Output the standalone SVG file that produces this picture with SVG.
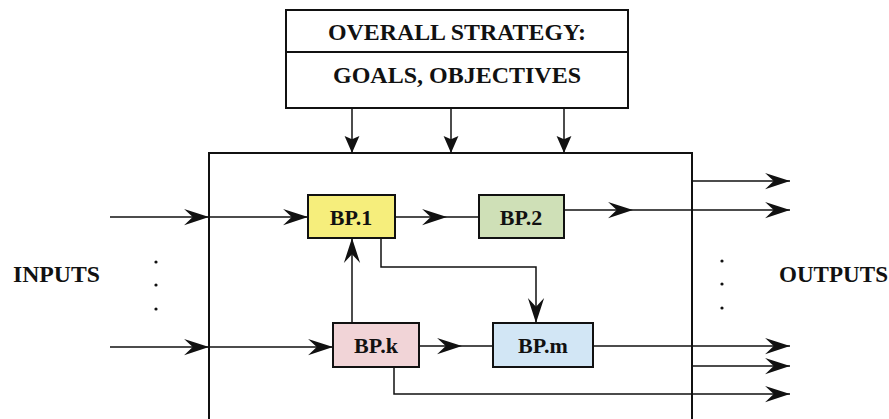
<svg xmlns="http://www.w3.org/2000/svg" width="889" height="419" viewBox="0 0 889 419">
  <style>
    .frame { fill: none; stroke: #111; stroke-width: 2; }
    .bp { stroke: #111; stroke-width: 2; }
    .wire { fill: none; stroke: #111; stroke-width: 1.5; }
    .lbl { font-family: 'Liberation Serif', 'Times New Roman', Times, serif; font-weight: 700; fill: #111; }
    .dot { fill: #111; }
  </style>
  <defs>
    <!-- barbed arrowhead, tip at the end of the path -->
    <marker id="barb" markerUnits="userSpaceOnUse" markerWidth="26" markerHeight="18" viewBox="-23 -8 24 16" refX="0" refY="0" orient="auto">
      <path d="M0,0 L-23,-7.5 L-15,0 L-23,7.5 Z" fill="#111"/>
    </marker>
    <!-- small solid arrowhead for the strategy inputs -->
    <marker id="tri" markerUnits="userSpaceOnUse" markerWidth="18" markerHeight="18" viewBox="-16 -8 17 16" refX="0" refY="0" orient="auto">
      <path d="M0,0 L-16,-7 L-13,0 L-16,7 Z" fill="#111"/>
    </marker>
    <!-- arrowhead placed in the middle of a straight run -->
    <marker id="midbarb" markerUnits="userSpaceOnUse" markerWidth="26" markerHeight="18" viewBox="-23 -8 24 16" refX="0" refY="0" orient="auto">
      <path d="M0,0 L-23,-7.5 L-15,0 L-23,7.5 Z" fill="#111"/>
    </marker>
  </defs>

  <rect width="889" height="419" fill="#fff"/>

  <!-- strategy box -->
  <g id="strategy">
    <rect class="frame" x="286" y="10" width="342" height="98"/>
    <line class="frame" x1="286" y1="52" x2="628" y2="52"/>
    <text class="lbl" x="457" y="40" font-size="23" text-anchor="middle" textLength="258" lengthAdjust="spacingAndGlyphs">OVERALL STRATEGY:</text>
    <text class="lbl" x="457" y="83" font-size="23" text-anchor="middle" textLength="248" lengthAdjust="spacingAndGlyphs">GOALS, OBJECTIVES</text>
  </g>

  <!-- enterprise boundary (open at the bottom) -->
  <g id="system">
    <path class="frame" d="M209,421 L209,153 L692,153 L692,421"/>
  </g>

  <g id="bp1">
    <rect class="bp" x="308" y="195" width="87" height="43" fill="#f6ee7c"/>
    <text class="lbl" x="351" y="225" font-size="22" text-anchor="middle">BP.1</text>
  </g>
  <g id="bp2">
    <rect class="bp" x="479" y="195" width="85" height="43" fill="#cfe0b7"/>
    <text class="lbl" x="521" y="225" font-size="22" text-anchor="middle">BP.2</text>
  </g>
  <g id="bpk">
    <rect class="bp" x="333" y="323" width="86" height="44" fill="#f1d4d7"/>
    <text class="lbl" x="376" y="353" font-size="22" text-anchor="middle">BP.k</text>
  </g>
  <g id="bpm">
    <rect class="bp" x="493" y="323" width="100" height="44" fill="#d2e6f5"/>
    <text class="lbl" x="543" y="353" font-size="22" text-anchor="middle">BP.m</text>
  </g>

  <g id="inputs">
    <text class="lbl" x="13" y="282" font-size="23" textLength="87" lengthAdjust="spacingAndGlyphs">INPUTS</text>
    <circle class="dot" cx="156" cy="262" r="1.6"/>
    <circle class="dot" cx="156" cy="285" r="1.6"/>
    <circle class="dot" cx="156" cy="309" r="1.6"/>
  </g>
  <g id="outputs">
    <text class="lbl" x="779" y="282" font-size="23" textLength="109" lengthAdjust="spacingAndGlyphs">OUTPUTS</text>
    <circle class="dot" cx="722" cy="261" r="1.6"/>
    <circle class="dot" cx="722" cy="284" r="1.6"/>
    <circle class="dot" cx="722" cy="308" r="1.6"/>
  </g>

  <g id="connectors">
    <!-- strategy into the system -->
    <path class="wire" d="M352,108 L352,153" marker-end="url(#tri)"/>
    <path class="wire" d="M451,108 L451,153" marker-end="url(#tri)"/>
    <path class="wire" d="M564,108 L564,153" marker-end="url(#tri)"/>

    <!-- upper input into BP.1 -->
    <path class="wire" d="M110,217 L209,217" marker-end="url(#barb)"/>
    <path class="wire" d="M209,217 L308,217" marker-end="url(#barb)"/>

    <!-- lower input into BP.k -->
    <path class="wire" d="M110,347 L209,347" marker-end="url(#barb)"/>
    <path class="wire" d="M209,347 L333,347" marker-end="url(#barb)"/>

    <!-- BP.1 to BP.2 -->
    <path class="wire" d="M395,217 L447,217 L479,217" marker-mid="url(#midbarb)"/>
    <!-- BP.2 out -->
    <path class="wire" d="M564,210 L633,210 L790,210" marker-mid="url(#midbarb)" marker-end="url(#barb)"/>
    <!-- direct system output -->
    <path class="wire" d="M692,181 L790,181" marker-end="url(#barb)"/>

    <!-- BP.k up to BP.1 -->
    <path class="wire" d="M352,323 L352,238" marker-end="url(#barb)"/>
    <!-- BP.1 down to BP.m -->
    <path class="wire" d="M381,238 L381,267 L536,267 L536,323" marker-end="url(#barb)"/>

    <!-- BP.k to BP.m -->
    <path class="wire" d="M419,346 L462,346 L493,346" marker-mid="url(#midbarb)"/>
    <!-- BP.m out -->
    <path class="wire" d="M593,346 L790,346" marker-end="url(#barb)"/>
    <!-- second direct output -->
    <path class="wire" d="M692,366 L790,366" marker-end="url(#barb)"/>
    <!-- BP.k out below -->
    <path class="wire" d="M394,367 L394,394 L790,394" marker-end="url(#barb)"/>
  </g>
</svg>
